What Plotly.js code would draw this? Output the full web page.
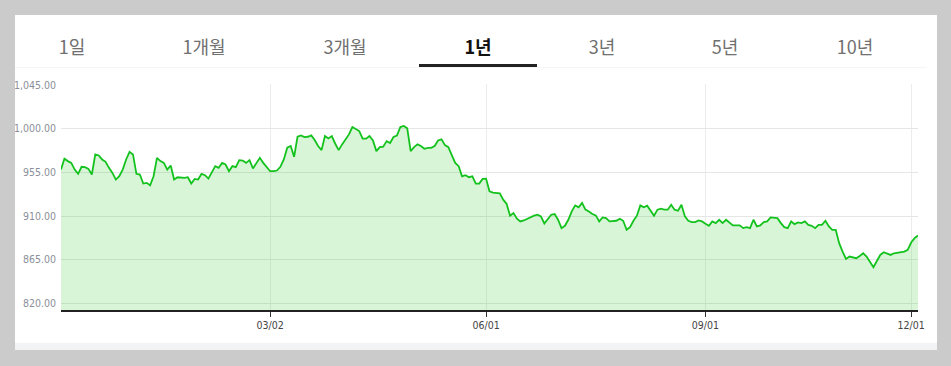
<!DOCTYPE html>
<html>
<head>
<meta charset="utf-8">
<script src="https://cdn.plot.ly/plotly-3.0.1.min.js"></script>
<style>
  html, body { margin: 0; padding: 0; }
  body { width: 951px; height: 366px; background: #cbcbcb; position: relative; overflow: hidden; }
  #card { position: absolute; left: 15px; top: 15px; width: 922px; height: 328px; background: #ffffff; }
  #band { position: absolute; left: 15px; top: 343px; width: 922px; height: 7px; background: #f2f3f5; }
  .tab { position: absolute; top: 33px; width: 110px; height: 26px; line-height: 26px; text-align: center;
         font-family: "Noto Sans CJK KR", "Noto Sans", sans-serif; font-size: 18px; color: #707070; }
  .tab.active { color: #111111; font-weight: bold; }
  #underline { position: absolute; left: 419px; top: 64px; width: 118px; height: 3px; background: #222222; }
  #sep { position: absolute; left: 15px; top: 67px; width: 912px; height: 1px; background: #f6f6f6; }
  #chart { position: absolute; left: 0; top: 0; width: 951px; height: 366px; }
</style>
</head>
<body>
<div id="card"></div>
<div id="band"></div>
<div id="sep"></div>
<div id="tabs"></div>
<div id="underline"></div>
<div id="chart"></div>
<script>
// Tab labels
const tabLabels = ["1일", "1개월", "3개월", "1년", "3년", "5년", "10년"];
const activeTab = "1년";

// Closing values, one per trading day (oldest to newest)
const closeValues = [
  957.9, 969.0, 966.6, 964.8, 957.9, 953.5, 960.7, 960.3, 958.6, 952.8,
  973.5, 972.4, 968.3, 965.9, 959.7, 954.5, 947.6, 951.0, 957.9, 968.3,
  976.2, 973.5, 953.5, 952.8, 943.5, 944.2, 941.7, 951.0, 970.0, 966.6,
  964.8, 957.9, 962.1, 947.6, 950.0, 949.3,
  949.3, 950.0, 943.5, 948.3, 947.6, 953.5, 952.1, 948.6, 955.5, 961.4,
  959.7, 964.8, 963.1, 956.2, 961.4, 960.3, 967.6, 967.2, 964.8, 967.6,
  959.0, 964.8, 970.0, 964.8, 960.7, 956.2, 956.2, 956.9, 960.7, 968.3,
  980.4, 982.1, 971.0, 991.7, 993.1, 991.4,
  991.7, 993.1, 988.3, 982.1, 977.9, 992.4, 990.0, 992.4, 984.5, 977.9,
  983.8, 989.0, 994.1, 1001.7, 1000.0, 997.6, 989.7, 989.7, 992.4, 987.9,
  976.9, 981.0, 981.4, 987.2, 985.2, 991.4, 992.8, 1001.7, 1002.8, 1000.3,
  976.9, 981.0, 983.8, 982.1, 979.3, 980.3,
  980.3, 982.1, 987.9, 989.0, 983.1, 981.0, 972.8, 964.8, 961.4, 951.0,
  952.1, 950.0, 951.0, 943.5, 943.5, 948.3, 948.6, 935.5, 934.2, 934.2,
  933.5, 926.9, 922.4, 910.4, 913.1, 907.3, 904.5, 905.5, 907.3, 908.6,
  910.4, 911.4, 909.7, 902.4, 907.3, 911.4,
  912.1, 906.2, 897.6, 900.0, 906.2, 914.8, 921.0, 919.0, 923.5, 916.6,
  914.8, 912.1, 910.7, 904.5, 908.6, 907.9, 904.5, 904.5, 905.2, 907.3,
  905.2, 895.9, 898.6, 905.2, 910.4, 921.0, 919.0, 920.7, 915.5, 910.4,
  916.6, 917.6, 916.6, 916.6, 921.7, 916.6,
  915.5, 921.7, 909.7, 905.2, 903.8, 903.8, 905.5, 904.5, 902.1, 900.0,
  904.5, 902.8, 906.2, 902.8, 906.2, 902.8, 900.4, 900.4, 900.4, 897.6,
  898.6, 897.6, 906.2, 899.3, 900.4, 903.8, 904.5, 908.6, 908.6, 907.9,
  902.8, 898.6, 897.6, 904.5, 901.7,
  903.5, 902.8, 904.5, 901.0, 900.0, 897.6, 901.0, 901.0, 905.2, 899.3,
  895.9, 895.9, 882.1, 873.4, 865.9, 868.3, 867.3, 866.6, 869.0, 871.7,
  868.3, 863.1, 857.3, 863.8, 870.0, 872.8, 871.7, 870.0, 871.7, 872.4,
  872.4, 873.4, 875.2, 882.8, 887.3, 890.0
];

// Labelled dates on the x axis and the trading-day index each falls on
const xTickLabels = ["03/02", "06/01", "09/01", "12/01"];
const xTickIndex = [61, 124, 188, 248];

// Y-axis tick values
const yTickValues = [820, 865, 910, 955, 1000, 1045];

// Build tabs
const tabCenters = [72, 204, 345, 478, 602, 725, 855];
const tabsDiv = document.getElementById("tabs");
tabLabels.forEach((t, i) => {
  const d = document.createElement("div");
  d.className = "tab" + (t === activeTab ? " active" : "");
  d.style.left = (tabCenters[i] - 55) + "px";
  d.textContent = t;
  tabsDiv.appendChild(d);
});

const trace = {
  y: closeValues,
  type: "scatter",
  mode: "lines",
  line: { color: "#14c21e", width: 1.8 },
  fill: "tozeroy",
  fillcolor: "rgba(25,195,25,0.17)",
  hoverinfo: "skip"
};

const layout = {
  width: 951,
  height: 366,
  margin: { l: 61, r: 33, t: 84, b: 56 },
  paper_bgcolor: "rgba(0,0,0,0)",
  plot_bgcolor: "rgba(0,0,0,0)",
  showlegend: false,
  xaxis: {
    range: [0, closeValues.length - 1],
    tickmode: "array",
    tickvals: xTickIndex,
    ticktext: xTickLabels,
    showgrid: true,
    gridcolor: "#ececec",
    gridwidth: 1,
    zeroline: false,
    showline: true,
    linecolor: "#222222",
    linewidth: 1.5,
    ticks: "outside",
    ticklen: 5,
    tickcolor: "#333333",
    tickwidth: 1,
    tickfont: { family: "DejaVu Sans Condensed, DejaVu Sans, sans-serif", size: 10.5, color: "#444444" },
    fixedrange: true
  },
  yaxis: {
    range: [813.3, 1046],
    tickmode: "array",
    tickvals: yTickValues,
    tickformat: ",.2f",
    showgrid: true,
    gridcolor: "#e6e6e6",
    gridwidth: 1,
    zeroline: false,
    showline: false,
    ticks: "",
    ticklabelstandoff: 4,
    tickfont: { family: "DejaVu Sans Condensed, DejaVu Sans, sans-serif", size: 10.5, color: "#8a8f98" },
    fixedrange: true
  }
};

Plotly.newPlot("chart", [trace], layout, { displayModeBar: false, staticPlot: true });
</script>
</body>
</html>
